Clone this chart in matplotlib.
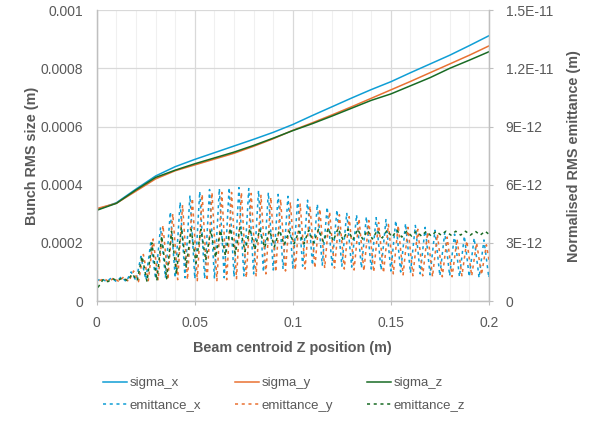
import numpy as np
import matplotlib.pyplot as plt
from matplotlib.ticker import MultipleLocator, FuncFormatter

# beam size along z (m), read every 0.01 m
z_sigma = [0, 0.01, 0.02, 0.03, 0.04, 0.05, 0.06, 0.07, 0.08, 0.09, 0.10,
           0.11, 0.12, 0.13, 0.14, 0.15, 0.16, 0.17, 0.18, 0.19, 0.20]
sigma_x = [0.000314, 0.000338, 0.000385, 0.000430, 0.000462, 0.000487, 0.000510, 0.000533,
           0.000556, 0.000580, 0.000607, 0.000638, 0.000668, 0.000698, 0.000727, 0.000754,
           0.000785, 0.000815, 0.000845, 0.000878, 0.000912]
sigma_y = [0.000318, 0.000336, 0.000378, 0.000420, 0.000448, 0.000468, 0.000488, 0.000508,
           0.000532, 0.000558, 0.000587, 0.000613, 0.000640, 0.000668, 0.000697, 0.000726,
           0.000755, 0.000785, 0.000815, 0.000845, 0.000877]
sigma_z = [0.000312, 0.000336, 0.000382, 0.000425, 0.000450, 0.000472, 0.000492, 0.000512,
           0.000535, 0.000560, 0.000586, 0.000610, 0.000636, 0.000663, 0.000690, 0.000712,
           0.000740, 0.000768, 0.000800, 0.000828, 0.000857]

# emittance oscillation: upper / lower turning points (units of 1E-12 m) every 0.005 m
z_emit = np.round(np.arange(41) * 0.005, 4)
emit_x_hi = [1.15, 1.2, 1.25, 1.5, 2.3, 3.0, 3.8, 4.6, 5.1, 5.45, 5.65, 5.75, 5.8, 5.85, 5.85,
             5.8, 5.7, 5.6, 5.5, 5.4, 5.25, 5.2, 5.0, 4.85, 4.7, 4.55, 4.45, 4.35, 4.3, 4.2,
             4.15, 4.0, 3.9, 3.8, 3.65, 3.55, 3.45, 3.35, 3.25, 3.15, 3.05]
emit_x_lo = [1.05, 1.0, 1.0, 1.0, 1.05, 1.1, 1.15, 1.2, 1.2, 1.2, 1.15, 1.15, 1.15, 1.2, 1.25,
             1.3, 1.4, 1.5, 1.6, 1.65, 1.7, 1.8, 1.85, 1.85, 1.85, 1.8, 1.75, 1.7, 1.65, 1.6,
             1.55, 1.5, 1.45, 1.4, 1.35, 1.3, 1.3, 1.25, 1.25, 1.2, 1.2]
emit_y_hi = [1.15, 1.2, 1.25, 1.55, 2.4, 3.2, 3.9, 4.5, 4.95, 5.3, 5.5, 5.6, 5.6, 5.6, 5.6,
             5.55, 5.45, 5.35, 5.25, 5.1, 5.0, 4.9, 4.75, 4.6, 4.45, 4.35, 4.25, 4.15, 4.05, 3.95,
             3.9, 3.8, 3.7, 3.55, 3.45, 3.3, 3.2, 3.1, 3.0, 2.9, 2.8]
emit_y_lo = [1.05, 1.0, 1.0, 1.0, 1.0, 1.05, 1.1, 1.1, 1.1, 1.1, 1.05, 1.05, 1.05, 1.1, 1.15,
             1.2, 1.3, 1.4, 1.5, 1.55, 1.6, 1.65, 1.7, 1.7, 1.7, 1.65, 1.6, 1.55, 1.5, 1.45,
             1.4, 1.35, 1.3, 1.3, 1.25, 1.25, 1.25, 1.3, 1.3, 1.35, 1.4]
emit_z_hi = [1.1, 1.15, 1.2, 1.4, 2.3, 3.0, 3.35, 3.6, 3.8, 3.7, 3.7, 3.65, 3.65, 3.75, 3.8,
             3.75, 3.7, 3.65, 3.65, 3.6, 3.6, 3.65, 3.7, 3.75, 3.75, 3.7, 3.7, 3.65, 3.65, 3.65,
             3.65, 3.6, 3.6, 3.6, 3.6, 3.6, 3.6, 3.6, 3.6, 3.6, 3.6]
emit_z_lo = [0.7, 1.0, 1.05, 1.05, 1.05, 1.0, 1.05, 1.15, 1.4, 1.75, 1.95, 2.1, 2.25, 2.35, 2.45,
             2.55, 2.65, 2.75, 2.8, 2.9, 2.95, 2.95, 3.0, 3.05, 3.1, 3.15, 3.15, 3.2, 3.2, 3.25,
             3.3, 3.3, 3.35, 3.35, 3.35, 3.4, 3.4, 3.4, 3.4, 3.4, 3.4]


def zigzag(z, lo, hi, shift):
    # alternate between the lower and upper turning points
    z = np.asarray(z)
    xs = np.empty(2 * len(z))
    ys = np.empty(2 * len(z))
    xs[0::2] = z + shift
    xs[1::2] = z + shift + 0.0025
    ys[0::2] = lo
    ys[1::2] = hi
    return xs, ys * 1e-12


c_blue = '#0F9ED5'
c_orange = '#E97132'
c_green = '#196B24'
grey = '#595959'
sans = ['Liberation Sans', 'DejaVu Sans']

fig = plt.figure(figsize=(5.94, 4.24), dpi=100)
ax = fig.add_axes([0.163, 0.29, 0.66, 0.686])
ax2 = ax.twinx()

l1, = ax.plot(z_sigma, sigma_x, color=c_blue, lw=1.1, label='sigma_x')
l2, = ax.plot(z_sigma, sigma_y, color=c_orange, lw=1.1, label='sigma_y')
l3, = ax.plot(z_sigma, sigma_z, color=c_green, lw=1.1, label='sigma_z')

dash = (0, (2.0, 2.4))
ex, ey = zigzag(z_emit, emit_x_lo, emit_x_hi, 0.0)
l4, = ax2.plot(ex, ey, color=c_blue, lw=1.1, ls=dash, label='emittance_x')
ex, ey = zigzag(z_emit, emit_y_lo, emit_y_hi, 0.00125)
l5, = ax2.plot(ex, ey, color=c_orange, lw=1.1, ls=dash, label='emittance_y')
ex, ey = zigzag(z_emit, emit_z_lo, emit_z_hi, 0.0006)
l6, = ax2.plot(ex, ey, color=c_green, lw=1.1, ls=dash, label='emittance_z')

ax.set_xlim(0, 0.2)
ax.set_ylim(0, 0.001)
ax2.set_ylim(0, 1.5e-11)
ax.xaxis.set_major_locator(MultipleLocator(0.05))
ax.xaxis.set_minor_locator(MultipleLocator(0.01))
ax.yaxis.set_major_locator(MultipleLocator(0.0002))
ax2.yaxis.set_major_locator(MultipleLocator(3e-12))

ax.xaxis.set_major_formatter(FuncFormatter(lambda v, p: '%g' % round(v, 4)))
ax.yaxis.set_major_formatter(FuncFormatter(lambda v, p: '%g' % round(v, 6)))


def sci(v, p):
    if abs(v) < 1e-15:
        return '0'
    s = '%.1E' % v
    m, e = s.split('E')
    m = m.rstrip('0').rstrip('.')
    return m + 'E' + str(int(e))


ax2.yaxis.set_major_formatter(FuncFormatter(sci))

ax.grid(True, which='major', color='#D9D9D9', lw=0.9)
ax.grid(True, which='minor', axis='x', color='#F0F0F0', lw=0.8)
ax.set_axisbelow(True)

for a in (ax, ax2):
    for s in a.spines.values():
        s.set_color('#BFBFBF')
        s.set_linewidth(0.9)
    a.spines['top'].set_visible(False)

ax.tick_params(axis='both', which='both', colors='#BFBFBF', labelcolor=grey, labelsize=10)
ax.tick_params(axis='y', length=0, pad=10)
ax.tick_params(axis='x', which='major', length=3, pad=8)
ax.tick_params(axis='x', which='minor', length=0)
ax2.tick_params(axis='y', colors='#BFBFBF', labelcolor=grey, labelsize=10, length=3, pad=9)

lab_font = dict(family=sans, weight='bold', size=10.4, color=grey)
ax.set_xlabel('Beam centroid Z position (m)', labelpad=8, **lab_font)
ax.set_ylabel('Bunch RMS size (m)', labelpad=1, **lab_font)
ax2.set_ylabel('Normalised RMS emittance (m)', labelpad=10.5, **lab_font)

for t in ax.get_xticklabels() + ax.get_yticklabels() + ax2.get_yticklabels():
    t.set_family(sans)

# row-wise order: matplotlib fills legend columns first
leg = fig.legend(handles=[l1, l4, l2, l5, l3, l6], ncol=3, loc='center',
                 bbox_to_anchor=(0.478, 0.07), frameon=False, handlelength=1.8,
                 handletextpad=0.2, columnspacing=2.6, labelspacing=0.75,
                 prop={'family': sans, 'size': 9.5})
for t in leg.get_texts():
    t.set_color(grey)

fig.savefig('out.png', dpi=100)
